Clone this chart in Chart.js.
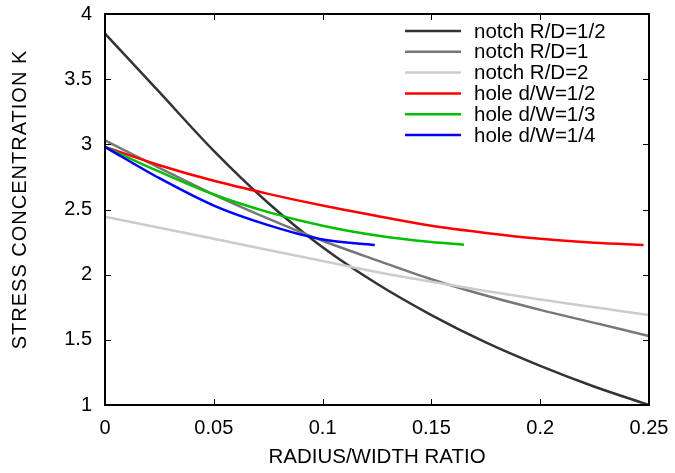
<!DOCTYPE html>
<html>
<head>
<meta charset="utf-8">
<script src="https://cdn.jsdelivr.net/npm/chart.js@4.4.1/dist/chart.umd.min.js"></script>
<style>
  html, body { margin: 0; padding: 0; background: #fff; }
  canvas { display: block; }
</style>
</head>
<body>
<canvas id="c" width="675" height="473"></canvas>
<script>
// ---- data ----
const seriesLabels = ['notch R/D=1/2', 'notch R/D=1', 'notch R/D=2', 'hole d/W=1/2', 'hole d/W=1/3', 'hole d/W=1/4'];
const seriesColors = ['#333333', '#777777', '#cccccc', '#ff0000', '#00c000', '#0000ff'];

const xNotch = [0, 0.025, 0.05, 0.075, 0.1, 0.125, 0.15, 0.175, 0.2, 0.225, 0.25];
const notchHalf = [3.85, 3.40, 2.95, 2.55, 2.21, 1.93, 1.69, 1.48, 1.30, 1.14, 1.00];
const notchOne = [3.03, 2.82, 2.615, 2.43, 2.26, 2.11, 1.965, 1.84, 1.73, 1.63, 1.53];
const notchTwo = [2.445, 2.36, 2.275, 2.19, 2.105, 2.02, 1.945, 1.875, 1.81, 1.75, 1.69];

const xHoleHalf = [0, 0.025, 0.05, 0.075, 0.1, 0.125, 0.15, 0.175, 0.2, 0.225, 0.2475];
const holeHalf = [2.98, 2.84, 2.72, 2.62, 2.53, 2.45, 2.375, 2.32, 2.275, 2.245, 2.228];

const xHoleThird = [0, 0.025, 0.05, 0.075, 0.1, 0.125, 0.15, 0.165];
const holeThird = [2.98, 2.79, 2.615, 2.48, 2.375, 2.30, 2.25, 2.23];

const xHoleQuarter = [0, 0.025, 0.05, 0.075, 0.1, 0.124];
const holeQuarter = [2.98, 2.74, 2.53, 2.38, 2.27, 2.228];

const xTicks = [0, 0.05, 0.1, 0.15, 0.2, 0.25];
const yTicks = [1, 1.5, 2, 2.5, 3, 3.5, 4];

const xTitle = 'RADIUS/WIDTH RATIO';
const yTitle = 'STRESS CONCENTRATION K';

// ---- build datasets ----
const xsList = [xNotch, xNotch, xNotch, xHoleHalf, xHoleThird, xHoleQuarter];
const ysList = [notchHalf, notchOne, notchTwo, holeHalf, holeThird, holeQuarter];
const datasets = ysList.map((ys, i) => ({
  label: seriesLabels[i],
  data: ys.map((v, k) => ({ x: xsList[i][k], y: v })),
  borderColor: seriesColors[i],
  backgroundColor: seriesColors[i],
  borderWidth: 2.5,
  pointRadius: 0,
  fill: false,
  cubicInterpolationMode: 'monotone',
  borderCapStyle: 'butt',
  borderJoinStyle: 'round',
  order: ysList.length - i
}));

const FONT = '"Liberation Sans", Arial, Helvetica, sans-serif';
const FS = 20;

function zeroPad(s) {
  s.paddingTop = 0; s.paddingBottom = 0; s.paddingLeft = 0; s.paddingRight = 0;
}

const framePlugin = {
  id: 'frame',
  afterDraw(chart) {
    const { ctx, chartArea: a, scales } = chart;
    const xs = scales.x, ys = scales.y;
    ctx.save();
    // inward ticks, mirrored on all sides
    ctx.strokeStyle = '#000';
    ctx.lineWidth = 1;
    const L = 6;
    ctx.beginPath();
    xTicks.forEach(v => {
      const p = Math.round(xs.getPixelForValue(v)) + 0.5;
      ctx.moveTo(p, a.bottom); ctx.lineTo(p, a.bottom - L);
      ctx.moveTo(p, a.top); ctx.lineTo(p, a.top + L);
    });
    yTicks.forEach(v => {
      const p = Math.round(ys.getPixelForValue(v)) + 0.5;
      ctx.moveTo(a.left, p); ctx.lineTo(a.left + L, p);
      ctx.moveTo(a.right, p); ctx.lineTo(a.right - L, p);
    });
    ctx.stroke();
    // frame
    ctx.lineWidth = 2;
    ctx.strokeRect(a.left, a.top, a.right - a.left, a.bottom - a.top);
    // legend (inside, top right)
    ctx.font = '20.5px ' + FONT;
    ctx.textBaseline = 'middle';
    ctx.textAlign = 'left';
    chart.data.datasets.forEach((d, i) => {
      const yy = a.top + 17 + i * 20.8;
      ctx.strokeStyle = d.borderColor;
      ctx.lineWidth = 2.5;
      ctx.beginPath();
      ctx.moveTo(a.right - 244, yy);
      ctx.lineTo(a.right - 188, yy);
      ctx.stroke();
      ctx.fillStyle = '#000';
      ctx.fillText(d.label, a.right - 175, yy + 1);
    });
    // y-axis title (rotated)
    ctx.save();
    ctx.translate(20, (a.top + a.bottom) / 2 - 10);
    ctx.rotate(-Math.PI / 2);
    ctx.font = FS + 'px ' + FONT;
    try { ctx.letterSpacing = '1px'; } catch (e) {}
    ctx.textAlign = 'center';
    ctx.textBaseline = 'middle';
    ctx.fillStyle = '#000';
    ctx.fillText(yTitle, 0, 0);
    ctx.restore();
    ctx.restore();
  }
};

new Chart(document.getElementById('c'), {
  type: 'line',
  data: { datasets },
  options: {
    responsive: false,
    devicePixelRatio: 1,
    animation: false,
    layout: { padding: { left: 0, right: 26, top: 14, bottom: 0 } },
    plugins: { legend: { display: false }, tooltip: { enabled: false } },
    scales: {
      x: {
        type: 'linear',
        min: 0, max: 0.25,
        afterFit(s) { s.height = 68; zeroPad(s); },
        afterBuildTicks(s) { s.ticks = xTicks.map(v => ({ value: v })); },
        ticks: {
          color: '#000',
          padding: 11,
          maxRotation: 0,
          autoSkip: false,
          font: { family: FONT, size: FS },
          callback: v => String(+(+v).toFixed(2))
        },
        grid: { display: false, drawTicks: false },
        border: { display: false },
        title: {
          display: true, text: xTitle, color: '#000',
          font: { family: FONT, size: 20.5 },
          padding: { top: 0, bottom: 3 }
        }
      },
      y: {
        type: 'linear',
        min: 1, max: 4,
        afterFit(s) { s.width = 105; zeroPad(s); },
        afterBuildTicks(s) { s.ticks = yTicks.map(v => ({ value: v })); },
        ticks: {
          color: '#000',
          padding: 13,
          autoSkip: false,
          font: { family: FONT, size: FS },
          callback: v => String(+(+v).toFixed(1))
        },
        grid: { display: false, drawTicks: false },
        border: { display: false },
        title: { display: false }
      }
    }
  },
  plugins: [framePlugin]
});
</script>
</body>
</html>
